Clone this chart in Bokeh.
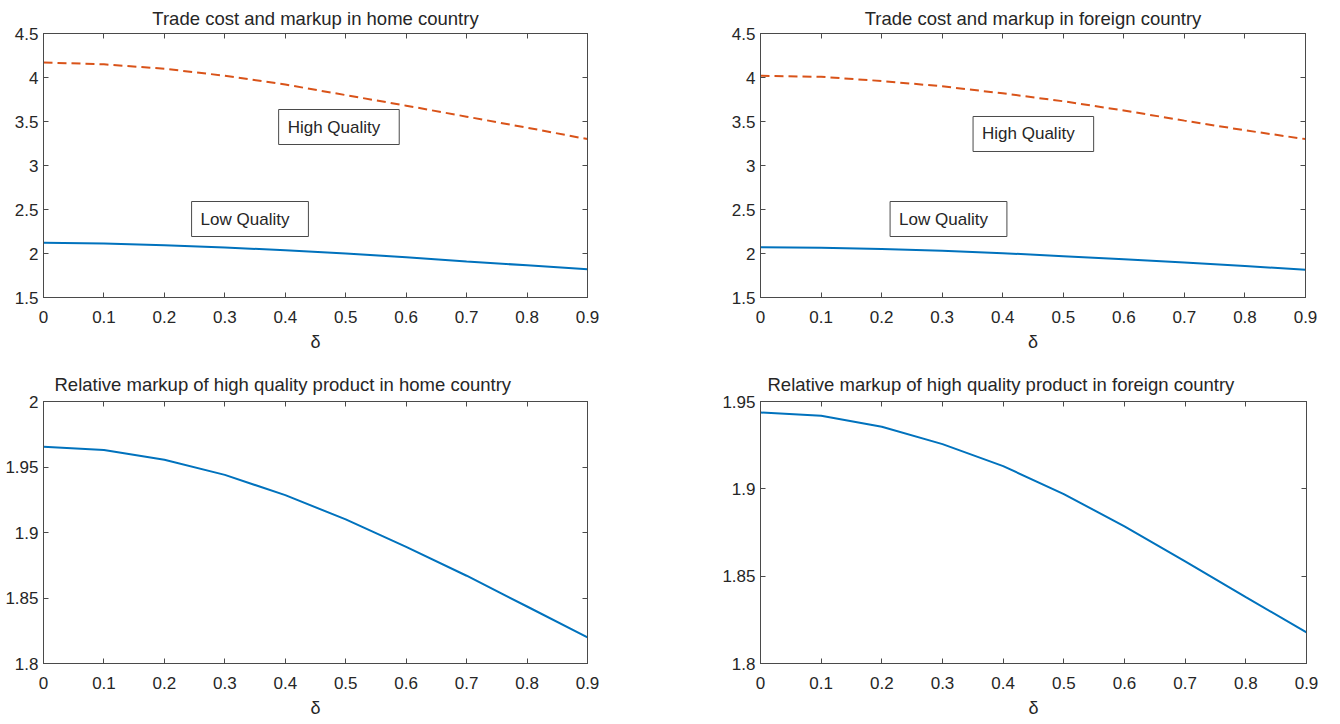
from bokeh.plotting import figure
from bokeh.models import LinearAxis, FixedTicker, CustomJSTickFormatter, Label, Range1d, Title
from bokeh.layouts import column, row
from bokeh.embed import file_html
from bokeh.resources import INLINE

# ---- data ----
delta = [0.0, 0.1, 0.2, 0.3, 0.4, 0.5, 0.6, 0.7, 0.8, 0.9]
home_high = [4.17, 4.15, 4.10, 4.02, 3.92, 3.80, 3.68, 3.555, 3.43, 3.30]
home_low = [2.121, 2.114, 2.095, 2.068, 2.038, 2.0, 1.958, 1.908, 1.866, 1.82]
foreign_high = [4.02, 4.008, 3.96, 3.90, 3.82, 3.73, 3.625, 3.51, 3.40, 3.30]
foreign_low = [2.072, 2.064, 2.05, 2.03, 2.004, 1.97, 1.935, 1.898, 1.858, 1.814]
rel_home = [1.9654, 1.963, 1.9555, 1.944, 1.9285, 1.910, 1.889, 1.867, 1.8435, 1.820]
rel_foreign = [1.9437, 1.9418, 1.9355, 1.9256, 1.913, 1.897, 1.8785, 1.8585, 1.838, 1.8178]

x_ticks = [0.0, 0.1, 0.2, 0.3, 0.4, 0.5, 0.6, 0.7, 0.8, 0.9]
y_ticks_top = [1.5, 2.0, 2.5, 3.0, 3.5, 4.0, 4.5]
y_ticks_rel_home = [1.8, 1.85, 1.9, 1.95, 2.0]
y_ticks_rel_foreign = [1.8, 1.85, 1.9, 1.95]

titles = ["Trade cost and markup in home country",
          "Trade cost and markup in foreign country",
          "Relative markup of high quality product in home country",
          "Relative markup of high quality product in foreign country"]
x_label = "δ"

BLUE = "#0072BD"
ORANGE = "#D95319"
AX = "#4a4a4a"
TXT = "#262626"
FONT = "Liberation Sans"

fmt_js = "return (Math.round(tick*100)/100).toString();"


def make_panel(title, y_range, y_ticks, borders, frame, title_align="center", title_offset=0, title_standoff=4):
    bl, br, bt, bb = borders
    fw, fh = frame
    p = figure(frame_width=fw, frame_height=fh, min_border_left=bl, min_border_right=br,
               min_border_top=bt, min_border_bottom=bb,
               x_range=Range1d(0, 0.9), y_range=Range1d(*y_range),
               output_backend="svg", toolbar_location=None, title=None)
    p.grid.visible = False
    p.outline_line_color = AX
    p.outline_line_width = 1
    p.background_fill_color = "white"
    p.border_fill_color = "white"
    for ax, ticks in ((p.xaxis[0], x_ticks), (p.yaxis[0], y_ticks)):
        ax.ticker = FixedTicker(ticks=ticks)
        ax.formatter = CustomJSTickFormatter(code=fmt_js)
        ax.major_tick_in = 5
        ax.major_tick_out = 0
        ax.minor_tick_line_color = None
        ax.axis_line_color = AX
        ax.major_tick_line_color = AX
        ax.major_label_text_font = FONT
        ax.major_label_text_font_size = "17px"
        ax.major_label_text_color = TXT
    p.xaxis[0].major_label_standoff = 13
    p.yaxis[0].major_label_standoff = 5
    p.xaxis[0].axis_label = x_label
    p.xaxis[0].axis_label_text_font = FONT
    p.xaxis[0].axis_label_text_font_size = "18px"
    p.xaxis[0].axis_label_text_font_style = "normal"
    p.xaxis[0].axis_label_text_color = TXT
    p.xaxis[0].axis_label_standoff = 6
    # mirrored ticks on top and right (MATLAB box style)
    for loc, ticks in (("above", x_ticks), ("right", y_ticks)):
        a = LinearAxis(ticker=FixedTicker(ticks=ticks),
                       formatter=CustomJSTickFormatter(code="return '';"),
                       major_tick_in=5, major_tick_out=0, minor_tick_line_color=None,
                       axis_line_color=AX, major_tick_line_color=AX,
                       major_label_standoff=0, major_label_text_font_size="1px")
        p.add_layout(a, loc)
    t = Title(text=title, align=title_align, offset=title_offset, standoff=title_standoff,
              text_font=FONT, text_font_size="18.5px", text_font_style="normal", text_color=TXT)
    p.add_layout(t, "above")
    return p


def box_label(p, x, y, text):
    p.add_layout(Label(x=x, y=y, text=text, text_font=FONT, text_font_size="17px",
                       text_color=TXT, text_align="left", text_baseline="middle",
                       border_line_color=AX, border_line_width=1,
                       background_fill_color="white",
                       padding=dict(left=9, right=19, top=8, bottom=8)))


p1 = make_panel(titles[0], (1.5, 4.5), y_ticks_top, (43, 100, 33, 64), (544, 264), title_standoff=10)
p1.line(delta, home_high, line_color=ORANGE, line_width=2, line_dash="9 5")
p1.line(delta, home_low, line_color=BLUE, line_width=2)
box_label(p1, 0.389, 3.4375, "High Quality")
box_label(p1, 0.245, 2.392, "Low Quality")

p2 = make_panel(titles[1], (1.5, 4.5), y_ticks_top, (73, 22, 33, 64), (545, 264), title_standoff=10)
p2.line(delta, foreign_high, line_color=ORANGE, line_width=2, line_dash="9 5")
p2.line(delta, foreign_low, line_color=BLUE, line_width=2)
box_label(p2, 0.351, 3.358, "High Quality")
box_label(p2, 0.214, 2.392, "Low Quality")

p3 = make_panel(titles[2], (1.8, 2.0), y_ticks_rel_home, (43, 100, 40, 48), (544, 262),
                title_align="left", title_offset=11, title_standoff=13)
p3.line(delta, rel_home, line_color=BLUE, line_width=2)

p4 = make_panel(titles[3], (1.8, 1.95), y_ticks_rel_foreign, (73, 21, 40, 48), (546, 262),
                title_align="left", title_offset=7, title_standoff=13)
p4.line(delta, rel_foreign, line_color=BLUE, line_width=2)

layout = column(row(p1, p2), row(p3, p4))
open("out.html", "w").write(file_html(layout, INLINE))
